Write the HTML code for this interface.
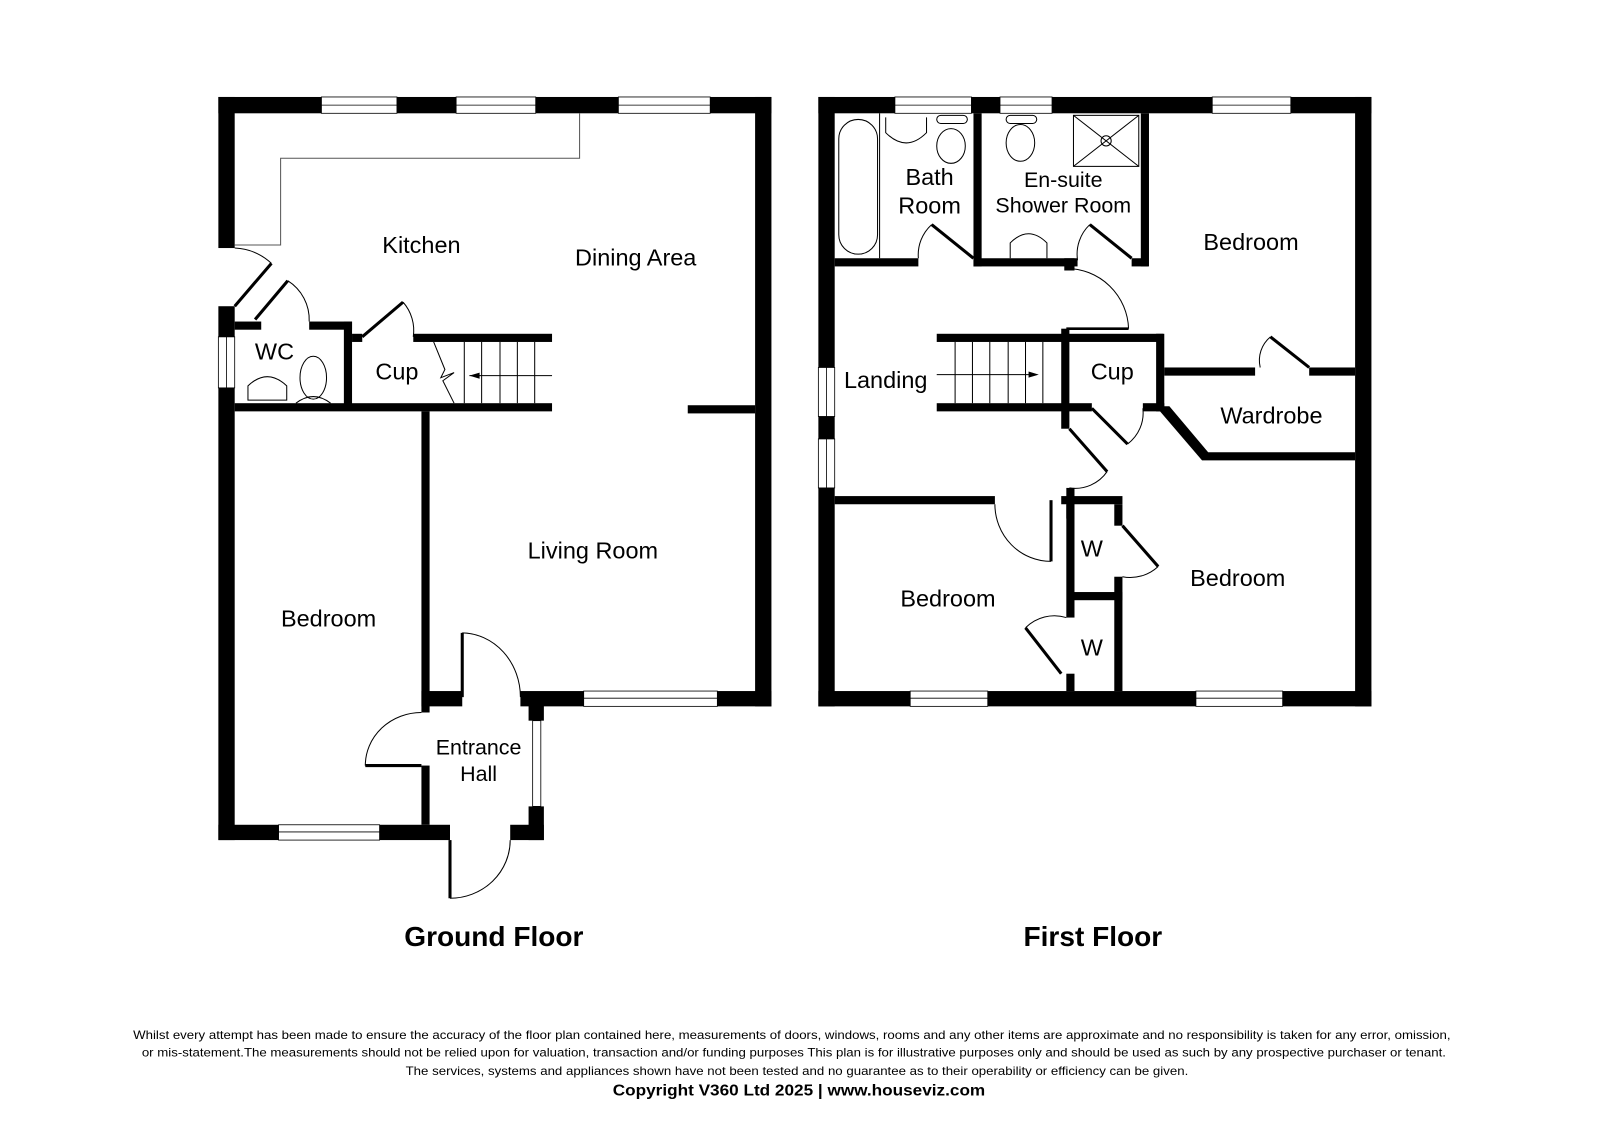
<!DOCTYPE html>
<html><head><meta charset="utf-8"><style>
html,body{margin:0;padding:0;background:#fff}
svg{display:block}
text{font-family:"Liberation Sans",Arial,sans-serif;fill:#000}
</style></head><body>
<svg width="1600" height="1131" viewBox="0 0 1568 1108" preserveAspectRatio="none" xmlns="http://www.w3.org/2000/svg">
<rect width="1568" height="1108" fill="#fff"/>
<g fill="#000">
<rect x="214" y="95" width="101" height="16"/>
<rect x="389" y="95" width="58" height="16"/>
<rect x="525" y="95" width="81" height="16"/>
<rect x="696" y="95" width="60" height="16"/>
<rect x="740" y="95" width="16" height="597"/>
<rect x="214" y="95" width="16" height="148"/>
<rect x="214" y="300" width="16" height="30"/>
<rect x="214" y="380" width="16" height="443"/>
<rect x="230" y="315" width="26" height="8"/>
<rect x="303" y="315" width="42" height="8"/>
<rect x="337" y="315" width="8" height="85"/>
<rect x="345" y="327" width="10" height="8"/>
<rect x="405" y="327" width="136" height="8"/>
<rect x="230" y="395" width="311" height="8"/>
<rect x="674" y="397" width="66" height="8"/>
<rect x="413" y="403" width="8" height="280"/>
<rect x="413" y="677" width="40" height="15"/>
<rect x="510" y="677" width="62" height="15"/>
<rect x="703" y="677" width="53" height="15"/>
<rect x="518" y="683" width="15" height="23"/>
<rect x="518" y="790" width="15" height="33"/>
<rect x="413" y="683" width="8" height="15"/>
<rect x="413" y="750" width="8" height="58"/>
<rect x="214" y="808" width="59" height="15"/>
<rect x="372" y="808" width="69" height="15"/>
<rect x="500" y="808" width="33" height="15"/>
<rect x="802" y="95" width="75" height="16"/>
<rect x="952" y="95" width="28" height="16"/>
<rect x="1031" y="95" width="157" height="16"/>
<rect x="1265" y="95" width="79" height="16"/>
<rect x="1328" y="95" width="16" height="597"/>
<rect x="802" y="95" width="16" height="265"/>
<rect x="802" y="408" width="16" height="22"/>
<rect x="802" y="478" width="16" height="214"/>
<rect x="802" y="677" width="90" height="15"/>
<rect x="968" y="677" width="204" height="15"/>
<rect x="1257" y="677" width="87" height="15"/>
<rect x="954" y="111" width="8" height="150"/>
<rect x="818" y="253" width="82" height="8"/>
<rect x="954" y="253" width="102" height="8"/>
<rect x="1043" y="253" width="10" height="12"/>
<rect x="1109" y="253" width="16" height="8"/>
<rect x="1118" y="111" width="8" height="150"/>
<rect x="1040" y="322" width="8" height="98"/>
<rect x="918" y="327" width="222" height="8"/>
<rect x="918" y="395" width="152" height="8"/>
<rect x="1120" y="395" width="21" height="8"/>
<rect x="1133" y="327" width="8" height="76"/>
<rect x="1141" y="360" width="89" height="8"/>
<rect x="1283" y="360" width="45" height="8"/>
<polygon points="1136,398 1146,398 1184,443 1328,443 1328,451 1178,451 1136,402"/>
<rect x="818" y="486" width="157" height="8"/>
<rect x="1040" y="486" width="60" height="8"/>
<rect x="1045" y="478" width="8" height="30"/>
<rect x="1092" y="494" width="8" height="21"/>
<rect x="1092" y="565" width="8" height="112"/>
<rect x="1045" y="494" width="8" height="111"/>
<rect x="1048" y="580" width="52" height="8"/>
<rect x="1045" y="660" width="8" height="17"/>
</g>
<g fill="#fff" stroke="#000" stroke-width="0.8">
<rect x="315" y="95" width="74" height="16"/><line x1="315" y1="103" x2="389" y2="103"/>
<rect x="447" y="95" width="78" height="16"/><line x1="447" y1="103" x2="525" y2="103"/>
<rect x="606" y="95" width="90" height="16"/><line x1="606" y1="103" x2="696" y2="103"/>
<rect x="214" y="330" width="16" height="50"/><line x1="222" y1="330" x2="222" y2="380"/>
<rect x="572" y="677" width="131" height="15"/><line x1="572" y1="684" x2="703" y2="684"/>
<rect x="522" y="706" width="8" height="84"/>
<rect x="273" y="808" width="99" height="15"/><line x1="273" y1="815" x2="372" y2="815"/>
<rect x="877" y="95" width="75" height="16"/><line x1="877" y1="103" x2="952" y2="103"/>
<rect x="980" y="95" width="51" height="16"/><line x1="980" y1="103" x2="1031" y2="103"/>
<rect x="1188" y="95" width="77" height="16"/><line x1="1188" y1="103" x2="1265" y2="103"/>
<rect x="802" y="360" width="16" height="48"/><line x1="810" y1="360" x2="810" y2="408"/>
<rect x="802" y="430" width="16" height="48"/><line x1="810" y1="430" x2="810" y2="478"/>
<rect x="892" y="677" width="76" height="15"/><line x1="892" y1="684" x2="968" y2="684"/>
<rect x="1172" y="677" width="85" height="15"/><line x1="1172" y1="684" x2="1257" y2="684"/>
</g>
<g fill="none" stroke="#000" stroke-width="1">
<polyline points="230,240 275,240 275,155 568,155 568,111" stroke="#555"/>
<path d="M230,243 A57,57 0 0 1 266,258"/>
<path d="M282,275 A45,45 0 0 1 303,315"/>
<path d="M395,296 A42,42 0 0 1 405,330"/>
<path d="M453,620 A58,63 0 0 1 510,683"/>
<path d="M358,750 A55,52 0 0 1 413,698"/>
<path d="M441,880 A59,57 0 0 0 500,823"/>
<path d="M900,253 A40,40 0 0 1 913,220"/>
<path d="M1056,255 A40,40 0 0 1 1068,220"/>
<path d="M1045,263 A61,61 0 0 1 1106,322"/>
<path d="M1105,435 A38,38 0 0 0 1120,400"/>
<path d="M1235,360 A30,30 0 0 1 1245,330"/>
<path d="M1048,478 A38,38 0 0 0 1085,462"/>
<path d="M975,494 A55,56 0 0 0 1030,550"/>
<path d="M1135,555 A40,40 0 0 1 1100,565"/>
<path d="M1045,605 A40,40 0 0 0 1005,615"/>
<line x1="455" y1="335" x2="455" y2="395"/><line x1="472" y1="335" x2="472" y2="395"/>
<line x1="490" y1="335" x2="490" y2="395"/><line x1="507" y1="335" x2="507" y2="395"/>
<line x1="524" y1="335" x2="524" y2="395"/><line x1="460" y1="368" x2="541" y2="368"/>
<polyline points="425,335 436,362 432,370 445,365 434,373 445,395"/>
<line x1="936" y1="335" x2="936" y2="395"/><line x1="953" y1="335" x2="953" y2="395"/>
<line x1="970" y1="335" x2="970" y2="395"/><line x1="988" y1="335" x2="988" y2="395"/>
<line x1="1005" y1="335" x2="1005" y2="395"/><line x1="1022" y1="335" x2="1022" y2="395"/>
<line x1="918" y1="367" x2="1010" y2="367"/>
<line x1="1045" y1="322" x2="1106" y2="322" stroke-width="2.5"/>
<path d="M243,392 L243,378 Q262,360 281,378 L281,392 Z"/>
<ellipse cx="307" cy="370" rx="13" ry="21"/><path d="M290,395 Q307,382 324,395"/>
<rect x="822" y="117" width="38" height="132" rx="19"/>
<line x1="862" y1="111" x2="862" y2="253"/>
<path d="M868,115 L868,130 Q888,150 908,130 L908,115"/>
<ellipse cx="932" cy="143" rx="14" ry="17"/><rect x="918" y="113" width="30" height="8" rx="4"/>
<ellipse cx="1000" cy="140" rx="14" ry="18"/><rect x="986" y="113" width="30" height="8" rx="4"/>
<rect x="1052" y="113" width="64" height="50"/><line x1="1052" y1="113" x2="1116" y2="163"/><line x1="1116" y1="113" x2="1052" y2="163"/>
<circle cx="1084" cy="138" r="5"/>
<path d="M990,253 L990,238 Q1008,220 1026,238 L1026,253"/>
</g>
<g stroke="#000" stroke-width="3" fill="none">
<line x1="230" y1="300" x2="266" y2="258"/>
<line x1="250" y1="313" x2="282" y2="275"/>
<line x1="355" y1="330" x2="395" y2="296"/>
<line x1="453" y1="620" x2="453" y2="683"/>
<line x1="358" y1="750" x2="413" y2="750"/>
<line x1="441" y1="823" x2="441" y2="880"/>
<line x1="954" y1="253" x2="913" y2="220"/>
<line x1="1109" y1="253" x2="1068" y2="220"/>
<line x1="1070" y1="400" x2="1105" y2="435"/>
<line x1="1283" y1="360" x2="1245" y2="330"/>
<line x1="1048" y1="420" x2="1085" y2="462"/>
<line x1="1030" y1="490" x2="1030" y2="550"/>
<line x1="1100" y1="515" x2="1135" y2="555"/>
<line x1="1005" y1="615" x2="1040" y2="660"/>
</g>
<polygon points="460,368 470,365 470,371"/>
<polygon points="1018,367 1008,364 1008,370"/>
<g font-size="23" text-anchor="middle">
<text x="413" y="248">Kitchen</text>
<text x="623" y="260">Dining Area</text>
<text x="269" y="352">WC</text>
<text x="389" y="372">Cup</text>
<text x="322" y="614">Bedroom</text>
<text x="581" y="547">Living Room</text>
<text x="469" y="739" font-size="21">Entrance</text>
<text x="469" y="765" font-size="21">Hall</text>
<text x="911" y="181">Bath</text>
<text x="911" y="209">Room</text>
<text x="1042" y="183" font-size="21">En-suite</text>
<text x="1042" y="208" font-size="21">Shower Room</text>
<text x="1226" y="245">Bedroom</text>
<text x="868" y="380">Landing</text>
<text x="1090" y="372">Cup</text>
<text x="1246" y="415">Wardrobe</text>
<text x="1070" y="545">W</text>
<text x="1070" y="642">W</text>
<text x="929" y="594">Bedroom</text>
<text x="1213" y="574">Bedroom</text>
</g>
<g font-size="27.5" font-weight="bold" text-anchor="middle">
<text x="484" y="927">Ground Floor</text>
<text x="1071" y="927">First Floor</text>
</g>
<g font-size="12" text-anchor="middle">
<text x="776" y="1018" textLength="1291" lengthAdjust="spacingAndGlyphs">Whilst every attempt has been made to ensure the accuracy of the floor plan contained here, measurements of doors, windows, rooms and any other items are approximate and no responsibility is taken for any error, omission,</text>
<text x="778" y="1035" textLength="1278" lengthAdjust="spacingAndGlyphs">or mis-statement.The measurements should not be relied upon for valuation, transaction and/or funding purposes This plan is for illustrative purposes only and should be used as such by any prospective purchaser or tenant.</text>
<text x="781" y="1053" textLength="767" lengthAdjust="spacingAndGlyphs">The services, systems and appliances shown have not been tested and no guarantee as to their operability or efficiency can be given.</text>
<text x="783" y="1073" font-size="15" font-weight="bold" textLength="365" lengthAdjust="spacingAndGlyphs">Copyright V360 Ltd 2025 | www.houseviz.com</text>
</g>
</svg>
</body></html>
